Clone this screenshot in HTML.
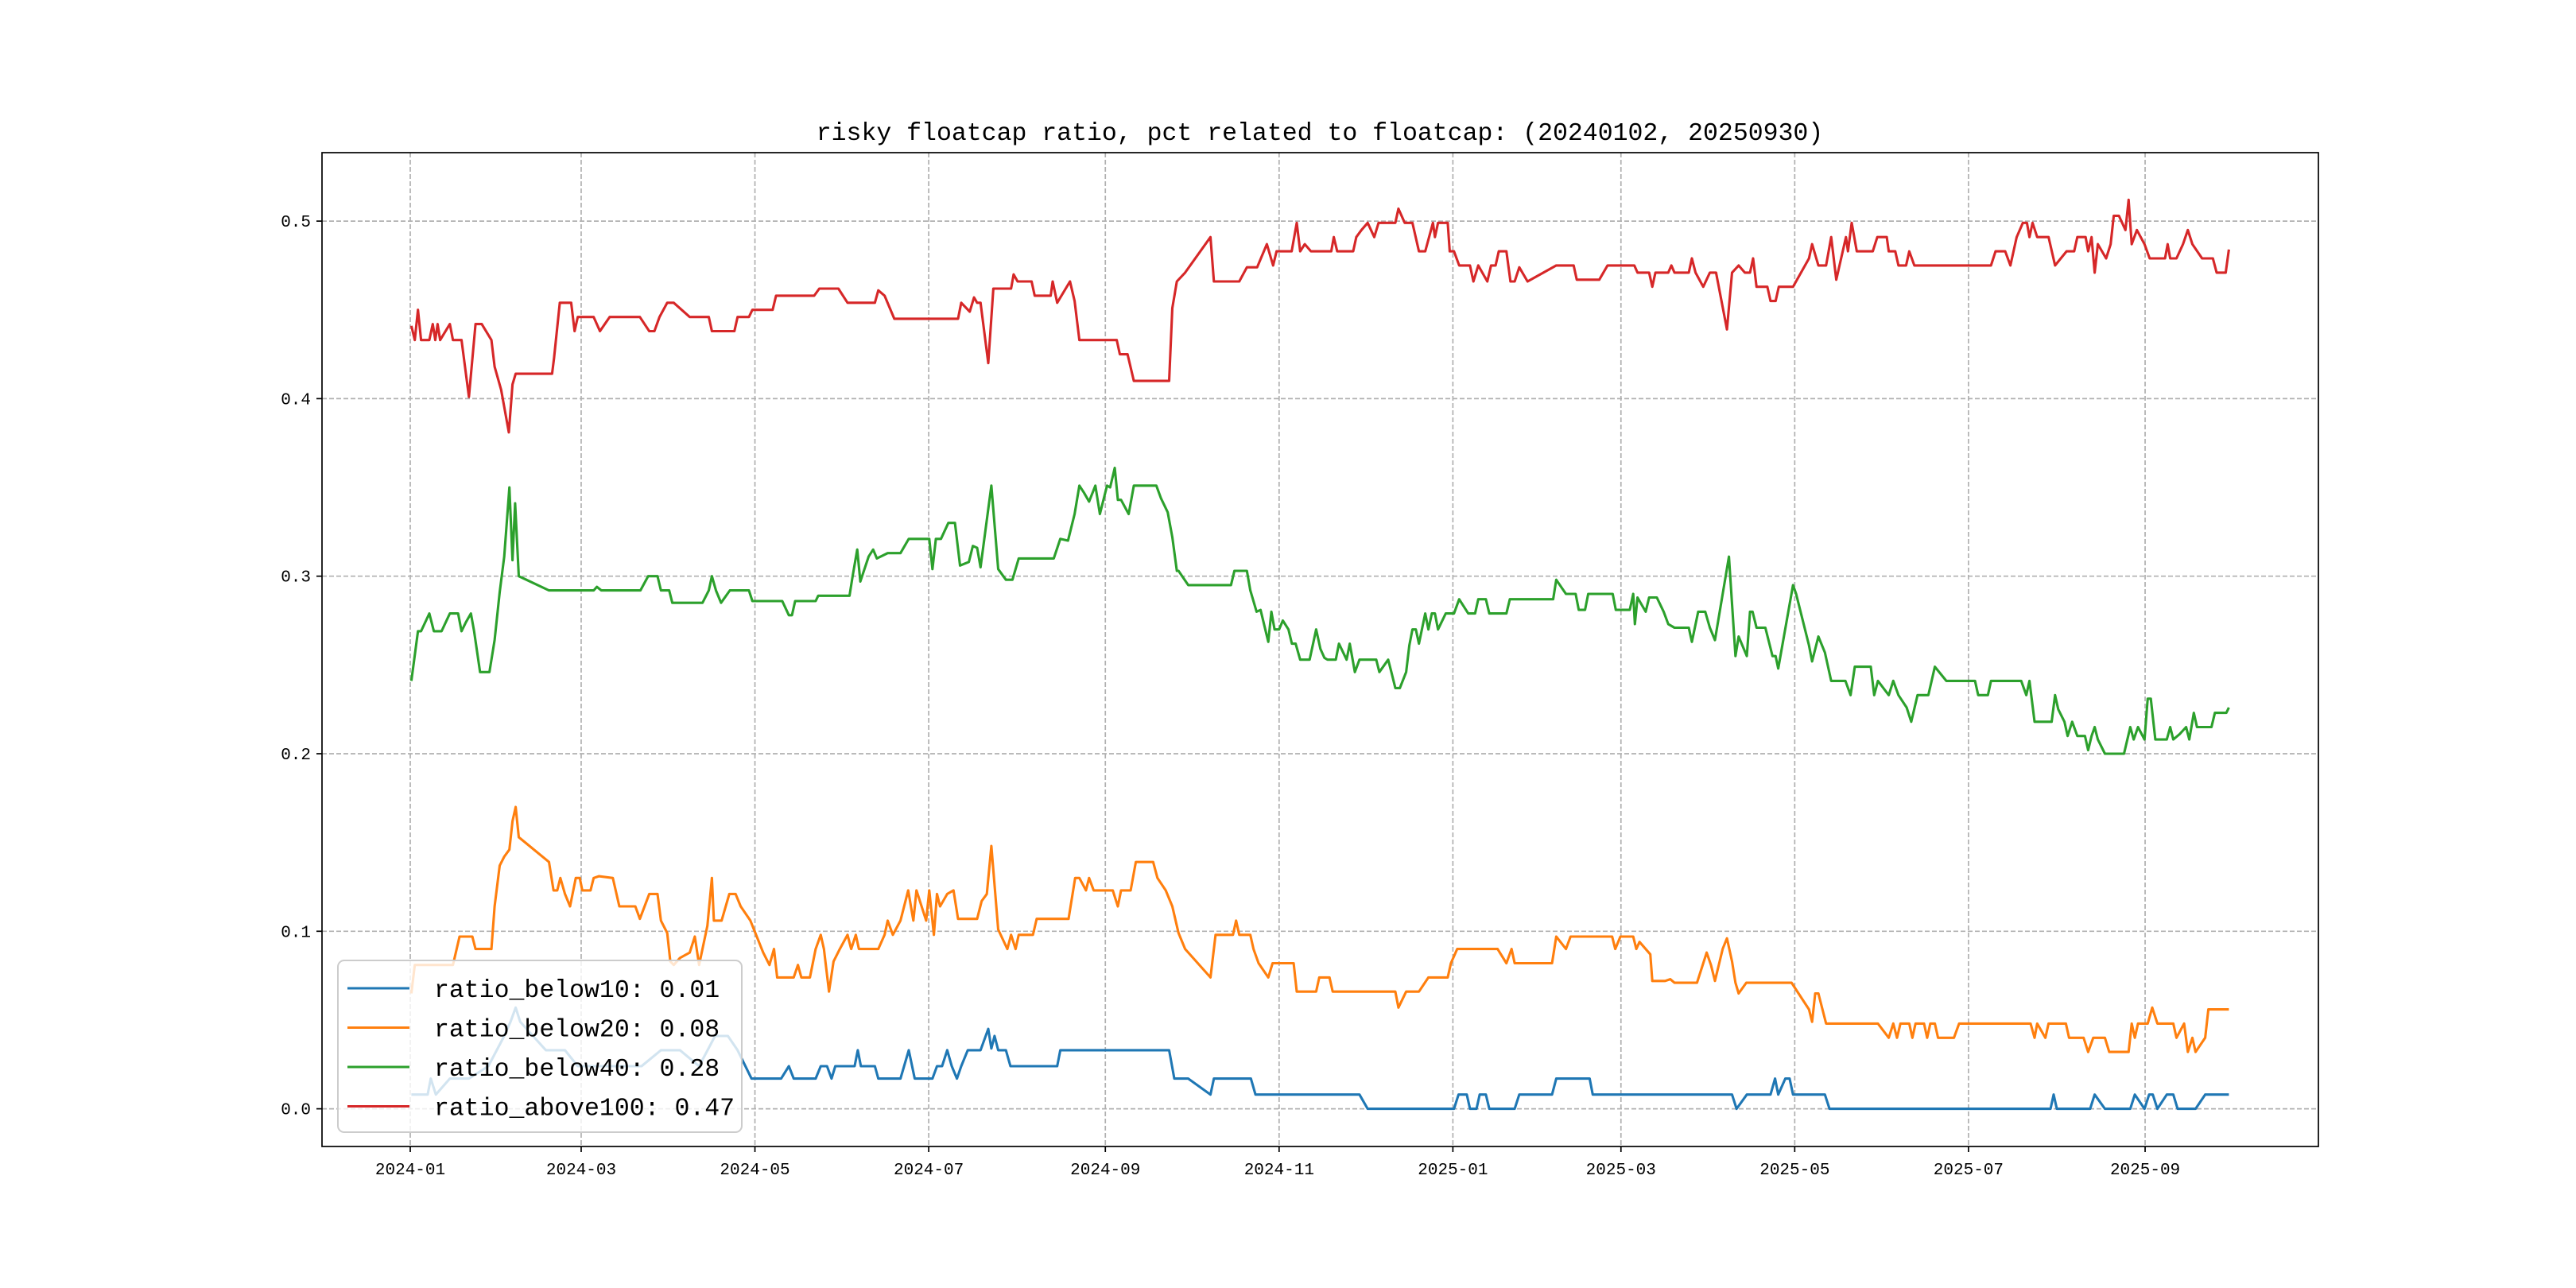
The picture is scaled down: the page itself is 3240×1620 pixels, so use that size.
<!DOCTYPE html>
<html><head><meta charset="utf-8"><style>
html,body{margin:0;padding:0;background:#fff;}
svg{display:block;}
text{font-family:"Liberation Mono","WenQuanYi Zen Hei",monospace;fill:#000;}
</style></head><body>
<svg id="chart" width="3240" height="1620" viewBox="0 0 3240 1620" xmlns="http://www.w3.org/2000/svg">
<rect width="3240" height="1620" fill="#fff"/>
<text x="1660" y="176" font-size="31.5" text-anchor="middle">risky floatcap ratio, pct related to floatcap: (20240102, 20250930)</text>
<g id="grid"></g><g id="series"></g><g id="axes"></g><g id="legend"></g>
</svg>
<script>
const xTickDays=[0,60,121,182,244,305,366,425,486,547,609];
const xTickLabels=["2024-01","2024-03","2024-05","2024-07","2024-09","2024-11","2025-01","2025-03","2025-05","2025-07","2025-09"];
const yTicks=[0,0.1,0.2,0.3,0.4,0.5];
const yTickLabels=["0.0","0.1","0.2","0.3","0.4","0.5"];
const seriesNames=["ratio_below10","ratio_below20","ratio_below40","ratio_above100"];
const legendValues=["0.01","0.08","0.28","0.47"];
const blueSeries=[[0.4,.008],[6.1,.008],[7.2,.017],[9,.008],[13.9,.017],[20.6,.017],[27.4,.024],[33,.041],[35.2,.049],[37,.057],[38.6,.049],[43.1,.041],[47.6,.033],[54.3,.033],[58.8,.024],[67.8,.024],[81.2,.024],[88,.033],[94.7,.033],[101.4,.024],[107,.041],[111.5,.041],[114.9,.033],[119.8,.017],[130.2,.017],[132.9,.024],[134.6,.017],[142.3,.017],[144.1,.024],[146.3,.024],[147.9,.017],[149.2,.024],[156,.024],[157.1,.033],[158.2,.024],[163.1,.024],[164.3,.017],[172.1,.017],[175,.033],[177.1,.017],[183.3,.017],[184.9,.024],[186.7,.024],[188.5,.033],[190.1,.024],[191.9,.017],[193.4,.024],[195.7,.033],[200.2,.033],[202.9,.045],[204,.034],[205.1,.041],[206.4,.033],[209.1,.033],[210.7,.024],[227.1,.024],[228.2,.033],[266.4,.033],[268.2,.017],[273.1,.017],[280.9,.008],[282.1,.017],[295.1,.017],[296.7,.008],[333.2,.008],[336.1,0],[366.4,0],[368,.008],[370.9,.008],[372,0],[374.3,0],[375.4,.008],[377.6,.008],[378.8,0],[387.7,0],[389.3,.008],[400.8,.008],[402.3,.017],[414,.017],[415.1,.008],[464,.008],[465.6,0],[469.2,.008],[477.5,.008],[479.1,.017],[480.2,.008],[482.7,.017],[484.2,.017],[485.4,.008],[496.6,.008],[498.2,0],[575.8,0],[576.9,.008],[578,0],[589.7,0],[591.3,.008],[594.9,0],[603.8,0],[605.4,.008],[608.8,0],[610.4,.008],[611.7,.008],[613.3,0],[616.6,.008],[618.9,.008],[620.4,0],[626.7,0],[630.1,.008],[638.4,.008]];
const orangeSeries=[[0.4,.065],[1.6,.081],[15,.081],[17.3,.097],[21.8,.097],[22.9,.09],[28.5,.09],[29.6,.114],[31.4,.137],[33,.142],[34.8,.146],[35.9,.162],[37,.17],[38.1,.153],[48.7,.139],[50.3,.123],[51.6,.123],[52.7,.13],[54.3,.121],[56.1,.114],[58.1,.13],[59.5,.13],[60.4,.123],[63.3,.123],[64.4,.13],[66.2,.131],[71.1,.13],[73.4,.114],[79,.114],[80.6,.107],[83.9,.121],[86.8,.121],[88,.106],[90.2,.099],[91.3,.083],[92.5,.081],[94.7,.085],[98.1,.088],[99.9,.097],[101.4,.081],[104.3,.103],[105.9,.13],[106.6,.106],[109.3,.106],[112,.121],[114.2,.121],[116,.114],[119.4,.106],[123.9,.088],[126.1,.081],[127.7,.09],[128.8,.074],[134.6,.074],[136.1,.081],[137.3,.074],[140.3,.074],[142.3,.09],[144.1,.098],[145.2,.09],[147,.066],[148.6,.083],[150.8,.09],[153.5,.098],[154.8,.09],[156.4,.098],[157.5,.09],[164.3,.09],[166.5,.098],[167.6,.106],[169.4,.098],[172.1,.106],[174.8,.123],[176.6,.106],[177.7,.123],[181.1,.106],[182.2,.123],[183.8,.098],[184.9,.121],[186,.114],[188.5,.121],[190.7,.123],[192.3,.107],[199,.107],[200.6,.117],[202.4,.121],[204,.148],[206.4,.101],[209.6,.09],[210.9,.098],[212.5,.09],[213.6,.098],[218.6,.098],[219.9,.107],[231.1,.107],[233.4,.13],[234.9,.13],[237.2,.123],[238.3,.13],[239.9,.123],[246.6,.123],[248.4,.114],[249.5,.123],[252.9,.123],[254.7,.139],[260.8,.139],[262.3,.13],[265.2,.123],[267.5,.114],[269.7,.099],[272,.09],[280.9,.074],[282.7,.098],[288.8,.098],[289.9,.106],[291,.098],[294.9,.098],[296,.09],[297.8,.082],[301.2,.074],[302.7,.082],[310.1,.082],[311.2,.066],[318,.066],[319.1,.074],[322.7,.074],[323.8,.066],[345.8,.066],[346.9,.057],[349.6,.066],[354.1,.066],[357.4,.074],[364.2,.074],[365.3,.082],[367.5,.09],[381.7,.09],[384.8,.082],[386.6,.09],[387.7,.082],[400.8,.082],[402.3,.097],[405.7,.09],[407.3,.097],[421.9,.097],[423,.09],[424.8,.097],[429.3,.097],[430.4,.09],[431.5,.094],[435.3,.087],[436,.072],[440.5,.072],[442.3,.073],[443.8,.071],[451.7,.071],[455.1,.088],[456.6,.081],[458,.072],[460.7,.09],[462.2,.096],[464,.083],[465.2,.071],[466.3,.065],[469,.071],[484.9,.071],[491,.056],[492.1,.049],[493.2,.065],[494.3,.065],[497,.048],[515.2,.048],[519,.04],[520.6,.048],[521.9,.04],[523.1,.048],[526.2,.048],[527.3,.04],[528.4,.048],[531.4,.048],[532.5,.04],[533.6,.048],[535.2,.048],[536.3,.04],[541.9,.04],[543.7,.048],[568.8,.048],[570.2,.04],[571.1,.048],[574,.04],[575.1,.048],[581.2,.048],[582.3,.04],[587.4,.04],[589,.032],[590.8,.04],[594.9,.04],[596.4,.032],[603.2,.032],[604.3,.048],[605.4,.04],[606.5,.048],[609.9,.048],[611.5,.057],[613.3,.048],[618.9,.048],[620,.04],[622.7,.048],[624,.032],[625.6,.04],[626.7,.032],[630.1,.04],[631.2,.056],[638.4,.056]];
const greenSeries=[[0.4,.241],[2.7,.269],[3.8,.269],[6.7,.279],[8.3,.269],[11,.269],[13.9,.279],[16.8,.279],[18,.269],[19.5,.274],[21.3,.279],[22.4,.269],[24.5,.246],[27.8,.246],[29.6,.264],[31.4,.291],[33,.311],[34.8,.35],[35.9,.309],[36.8,.341],[38.1,.3],[48.7,.292],[64.4,.292],[65.5,.294],[67.1,.292],[80.8,.292],[83.5,.3],[86.8,.3],[88,.292],[90.9,.292],[92,.285],[102.6,.285],[104.8,.292],[105.9,.3],[107.3,.292],[109.1,.285],[112.2,.292],[118.9,.292],[120.1,.286],[130.6,.286],[132.9,.278],[134,.278],[135.1,.286],[142.3,.286],[143.2,.289],[154.2,.289],[155.3,.3],[156.9,.315],[158,.297],[160.9,.311],[162.5,.315],[163.8,.31],[167.6,.313],[172.1,.313],[175,.321],[182.2,.321],[183.3,.304],[184.5,.321],[186.3,.321],[188.9,.33],[191.2,.33],[193,.306],[196.1,.308],[197.5,.317],[199,.316],[200.2,.305],[204,.351],[206.4,.304],[209.1,.298],[211.4,.298],[213.6,.31],[225.9,.31],[228.2,.321],[230.9,.32],[233.2,.335],[234.9,.351],[236.5,.347],[238.3,.342],[240.5,.351],[242.1,.335],[244.6,.351],[245.7,.35],[247.3,.361],[248.4,.343],[249.5,.343],[252.2,.335],[254,.351],[261.9,.351],[263.5,.344],[265.9,.336],[267.5,.322],[269.1,.303],[269.7,.303],[273.1,.295],[288.1,.295],[289.3,.303],[293.7,.303],[294.9,.292],[297.1,.28],[298.5,.281],[301.2,.263],[302.3,.28],[303.4,.27],[305,.27],[306.3,.275],[308.3,.27],[309.5,.262],[310.8,.262],[312.4,.253],[315.7,.253],[318,.27],[319.5,.259],[320.9,.254],[322,.253],[324.9,.253],[326,.262],[328.7,.253],[329.8,.262],[331.6,.246],[333.2,.253],[339.1,.253],[340.2,.246],[343.3,.253],[344.4,.246],[345.8,.237],[347.4,.237],[349.6,.246],[350.7,.261],[351.8,.27],[353,.27],[354.1,.262],[356.3,.279],[357.4,.27],[358.6,.279],[359.7,.279],[360.8,.27],[363.5,.279],[366.4,.279],[368.2,.287],[371.4,.279],[373.8,.279],[374.9,.287],[377.6,.287],[378.8,.279],[384.8,.279],[386,.287],[401.2,.287],[402.3,.298],[405.7,.29],[409.1,.29],[410.2,.281],[412.4,.281],[413.5,.29],[422.1,.29],[423.2,.281],[428.1,.281],[429.3,.29],[429.9,.273],[430.8,.288],[433.7,.28],[434.9,.288],[437.6,.288],[440,.28],[441.6,.273],[443.8,.271],[448.8,.271],[449.9,.263],[452.1,.28],[454.6,.28],[456.2,.271],[458,.264],[462.9,.311],[465.2,.255],[466.3,.266],[469.2,.255],[470.3,.28],[471.2,.28],[472.6,.271],[475.7,.271],[478.2,.255],[479.3,.255],[480.2,.248],[485.4,.295],[486.5,.29],[491,.261],[492.1,.252],[494.3,.266],[496.6,.257],[498.8,.241],[503.8,.241],[505.6,.233],[507.1,.249],[512.7,.249],[513.9,.233],[515.2,.241],[519,.233],[520.6,.241],[522.4,.233],[525.3,.226],[526.9,.218],[529.1,.233],[532.9,.233],[535.2,.249],[539.2,.241],[549.3,.241],[550.4,.233],[553.8,.233],[554.9,.241],[565.5,.241],[567.3,.233],[568.4,.241],[570.2,.218],[576.2,.218],[577.4,.233],[578.5,.225],[580.7,.218],[581.8,.21],[583.4,.218],[585.2,.21],[587.9,.21],[589,.202],[590.2,.21],[591.3,.215],[592.4,.208],[594.9,.2],[601.6,.2],[603.8,.215],[605,.208],[606.5,.215],[608.8,.208],[609.9,.231],[611,.231],[612.6,.208],[616.6,.208],[617.8,.215],[618.9,.208],[621.1,.211],[623.4,.215],[624.5,.208],[626.1,.223],[627.2,.215],[632.3,.215],[633.5,.223],[637.5,.223],[638.4,.226]];
const redSeries=[[0.4,.441],[1.6,.433],[2.7,.45],[3.8,.433],[6.7,.433],[7.9,.442],[8.8,.433],[9.6,.442],[10.5,.433],[13.9,.442],[15,.433],[18,.433],[20.6,.401],[22.9,.442],[25.1,.442],[28.5,.433],[29.6,.418],[31.9,.405],[34.6,.381],[35.9,.408],[37,.414],[49.8,.414],[50.5,.423],[52.5,.454],[56.5,.454],[57.7,.438],[58.8,.446],[64.4,.446],[66.6,.438],[70,.446],[80.6,.446],[83.9,.438],[85.7,.438],[87.5,.446],[90.2,.454],[92.5,.454],[98.1,.446],[104.8,.446],[105.9,.438],[113.8,.438],[114.9,.446],[118.9,.446],[120.1,.45],[127.2,.45],[128.4,.458],[141.8,.458],[143.6,.462],[150.3,.462],[153.5,.454],[163.1,.454],[164.3,.461],[166.5,.458],[169.9,.445],[192.3,.445],[193.4,.454],[196.4,.449],[197.9,.457],[199,.454],[200.2,.454],[202.9,.42],[204.7,.462],[210.9,.462],[211.8,.47],[213.2,.466],[218.1,.466],[219.2,.458],[224.8,.458],[225.5,.466],[227.1,.454],[231.6,.466],[233.2,.455],[234.9,.433],[248,.433],[249.1,.425],[251.8,.425],[254,.41],[266.4,.41],[267.5,.451],[269.1,.466],[272,.471],[280.9,.491],[282.1,.466],[291,.466],[293.7,.474],[297.3,.474],[300.7,.487],[302.9,.475],[304.1,.483],[309.4,.483],[311.2,.499],[312.4,.483],[314,.487],[316.2,.483],[323.3,.483],[324.2,.491],[325.4,.483],[331,.483],[332.1,.491],[333.9,.495],[336.1,.499],[338.4,.491],[339.9,.499],[345.8,.499],[346.9,.507],[349.1,.499],[351.8,.499],[354.1,.483],[356.3,.483],[359,.499],[359.7,.491],[360.8,.499],[364.2,.499],[364.9,.483],[366.4,.483],[368.2,.475],[372,.475],[373.2,.466],[374.9,.475],[378.1,.466],[379.4,.475],[381,.475],[382.1,.483],[384.8,.483],[386.2,.466],[387.7,.466],[389.3,.474],[392.2,.466],[402.3,.475],[408.4,.475],[409.5,.467],[417.4,.467],[420.3,.475],[429.7,.475],[430.8,.471],[434.9,.471],[436,.463],[437.1,.471],[441.6,.471],[442.7,.475],[443.8,.471],[448.8,.471],[449.9,.479],[451.2,.471],[453.9,.463],[456.2,.471],[458.4,.471],[462.2,.439],[464,.471],[466.3,.475],[468.5,.471],[470.3,.471],[471.4,.479],[472.6,.463],[476.4,.463],[477.5,.455],[479.3,.455],[480.4,.463],[485.4,.463],[491,.479],[492.1,.487],[494.3,.475],[497,.475],[498.8,.491],[500.6,.467],[504,.491],[504.7,.483],[506,.499],[507.8,.483],[513.4,.483],[515,.491],[518.3,.491],[519,.483],[521.3,.483],[522.4,.475],[525.1,.475],[526.2,.483],[528,.475],[554.9,.475],[556.5,.483],[559.9,.483],[561.7,.475],[563.9,.491],[566.1,.499],[567.5,.499],[568.4,.491],[569.5,.499],[571.1,.491],[575.1,.491],[577.4,.475],[581.4,.483],[584.1,.483],[585.2,.491],[588.1,.491],[589,.483],[590.2,.491],[591.3,.471],[592.4,.487],[595.3,.479],[596.9,.487],[598,.503],[599.8,.503],[602.1,.495],[603.2,.512],[604.3,.487],[606.1,.495],[608.8,.487],[610.6,.479],[616,.479],[616.9,.487],[617.8,.479],[620,.479],[622.3,.487],[624,.495],[625.6,.487],[629,.479],[632.8,.479],[634.1,.471],[637.3,.471],[638.4,.484]];
const colors=["#1f77b4","#ff7f0e","#2ca02c","#d62728"];
const allSeries=[blueSeries,orangeSeries,greenSeries,redSeries];
const plotL=405,plotR=2916,plotT=192,plotB=1442;
function xScale(d){return 516+d*3.583;}
function yScale(v){return 1394.6-v*2233;}
const NS="http://www.w3.org/2000/svg";
function mk(tag,attrs,parent){const e=document.createElementNS(NS,tag);for(const k in attrs)e.setAttribute(k,attrs[k]);parent.appendChild(e);return e;}
const grid=document.getElementById('grid'),ser=document.getElementById('series'),axes=document.getElementById('axes'),leg=document.getElementById('legend');
xTickDays.forEach((d,i)=>{const x=xScale(d);
const g=mk('line',{x1:x,x2:x,y1:plotT,y2:plotB,stroke:'#b0b0b0','stroke-width':1.7,'stroke-dasharray':'6,3'},grid);


const t=mk('line',{x1:x,x2:x,y1:plotB,y2:plotB+7,stroke:'#000','stroke-width':1.7},axes);


const l=mk('text',{x:x,y:plotB+35,'font-size':21,'text-anchor':'middle'},axes);l.textContent=xTickLabels[i];

});
yTicks.forEach((v,i)=>{const y=yScale(v);
const g=mk('line',{x1:plotL,x2:plotR,y1:y,y2:y,stroke:'#b0b0b0','stroke-width':1.7,'stroke-dasharray':'6,3'},grid);


const t=mk('line',{x1:plotL-7,x2:plotL,y1:y,y2:y,stroke:'#000','stroke-width':1.7},axes);


const l=mk('text',{x:plotL-14,y:y+7,'font-size':21,'text-anchor':'end'},axes);l.textContent=yTickLabels[i];

});
allSeries.forEach((s,i)=>{const p=mk('polyline',{points:s.map(q=>xScale(q[0]).toFixed(1)+','+yScale(q[1]).toFixed(1)).join(' '),fill:'none',stroke:colors[i],'stroke-width':3.1,'stroke-linejoin':'round'},ser);

});
const frame=mk('rect',{x:plotL,y:plotT,width:plotR-plotL,height:plotB-plotT,fill:'none',stroke:'#000','stroke-width':1.7},axes);


const box=mk('rect',{x:425,y:1208,width:508,height:216,rx:8,fill:'#fff','fill-opacity':0.8,stroke:'#cccccc','stroke-width':2},leg);


seriesNames.forEach((n,i)=>{const y=1243+i*49.5;
const ln=mk('line',{x1:437,x2:515,y1:y,y2:y,stroke:colors[i],'stroke-width':3.1},leg);


const t=mk('text',{x:546,y:y+11,'font-size':31.5},leg);t.textContent=n+': '+legendValues[i];

});
</script>
</body></html>
